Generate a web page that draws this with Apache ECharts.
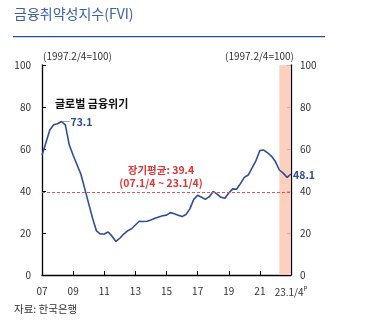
<!DOCTYPE html>
<html><head><meta charset="utf-8">
<script src="https://cdn.jsdelivr.net/npm/echarts@6/dist/echarts.min.js"></script>
<style>html,body{margin:0;padding:0;background:#fff}#c{width:366px;height:328px}</style>
</head><body><div id="c"></div>
<script>
// Quarterly categories 07.1 ... 23.1
const years = ['07','08','09','10','11','12','13','14','15','16','17','18','19','20','21','22','23'];
const categories = [];
years.forEach(y => { for (let q = 1; q <= 4; q++) { if (y === '23' && q > 1) break; categories.push(y + '.' + q); } });
const fvi = [57,63,69,71.5,72,73.1,71.5,62,57,52.5,48,41,34,27,21,19.5,19.5,20.5,18.5,16,17.5,19.5,21,22,23.8,25.6,25.5,25.6,26.2,27,27.6,28.2,28.5,29.7,29.2,28.5,27.8,28.8,31.5,36,38,37,36,37.3,39.8,38.5,37,36.5,39,41,40.8,43.5,46.5,47.6,51,54.5,59.3,59.5,58.2,56.5,54,50,48.5,46.5,48.1];
const yTicks = [0,20,40,60,80,100];
const longAvg = 39.4;
const shadeFrom = '22.2', shadeTo = '23.1';
const FONT = '"Noto Sans CJK KR", "Noto Sans", sans-serif';

const chart = echarts.init(document.getElementById('c'), null, {renderer:'canvas'});
const peakIdx = fvi.indexOf(Math.max(...fvi));
const lastIdx = fvi.length - 1;

chart.setOption({
  animation: false,
  textStyle: {fontFamily: FONT},
  grid: {left: 42, right: 75, top: 65, bottom: 53},
  xAxis: {
    type: 'category', data: categories, boundaryGap: false,
    axisLine: {lineStyle: {color: '#000', width: 1.3}},
    axisTick: {inside: true, interval: 7, length: 4, lineStyle: {color: '#000'}},
    axisLabel: {interval: 7, color: '#333', fontSize: 10, margin: 11, fontFamily: FONT,
      formatter: (v, i) => i === categories.length - 1 ? '23.1/4{p|P}' : v.split('.')[0],
      rich: {p: {fontSize: 6, verticalAlign: 'top', color: '#333', padding: [0,0,6,0]}}},
    splitLine: {show: false}
  },
  yAxis: [
    {type: 'value', min: 0, max: 100, interval: 20, position: 'left',
     axisLine: {show: true, lineStyle: {color: '#000', width: 1.3}},
     axisTick: {show: true, inside: true, length: 4, lineStyle: {color: '#000'}},
     axisLabel: {color: '#333', fontSize: 10, margin: 11, fontFamily: FONT},
     splitLine: {show: false}},
    {type: 'value', min: 0, max: 100, interval: 20, position: 'right',
     axisLine: {show: true, lineStyle: {color: '#000', width: 1.3}},
     axisTick: {show: true, inside: true, length: 4, lineStyle: {color: '#000'}},
     axisLabel: {color: '#333', fontSize: 10, margin: 9, fontFamily: FONT},
     splitLine: {show: false}}
  ],
  series: [{
    type: 'line', data: fvi, symbol: 'none', smooth: false,
    lineStyle: {color: '#2e4d9a', width: 1.6},
    z: 3,
    markArea: {silent: true, itemStyle: {color: 'rgba(252,200,180,0.85)'},
      data: [[{xAxis: shadeFrom}, {xAxis: shadeTo}]]},
    markLine: {silent: true, symbol: 'none', label: {show: false},
      lineStyle: {color: '#e05555', type: [3,2], width: 1},
      data: [{yAxis: longAvg}]},
    markPoint: {symbol: 'circle', symbolSize: 0,
      data: [
        {coord: [peakIdx, fvi[peakIdx]], label: {show: true, formatter: String(fvi[peakIdx]), position: 'right', offset: [4, 1], color: '#2e4d9a', fontWeight: 'bold', fontSize: 10.5, fontFamily: FONT}},
        {coord: [lastIdx, fvi[lastIdx]], label: {show: true, formatter: String(fvi[lastIdx]), position: 'right', offset: [-3, 1], color: '#2e4d9a', fontWeight: 'bold', fontSize: 10.5, fontFamily: FONT}}
      ]}
  }]
});

const pk = chart.convertToPixel({xAxisIndex: 0, yAxisIndex: 0}, [peakIdx, fvi[peakIdx]]);
const avgPx = chart.convertToPixel({yAxisIndex: 0}, longAvg);
chart.setOption({
  graphic: [
    {type: 'text', left: 14, top: 7, style: {text: '금융취약성지수(FVI)', fill: '#3a62a6', font: '14px ' + FONT}},
    {type: 'rect', shape: {x: 13, y: 36, width: 312, height: 1.3}, style: {fill: '#2a4f8f'}},
    {type: 'text', left: 43, top: 51, style: {text: '(1997.2/4=100)', fill: '#333', font: '10px ' + FONT}},
    {type: 'text', right: 72, top: 51, style: {text: '(1997.2/4=100)', fill: '#333', font: '10px ' + FONT}},
    {type: 'text', left: 55, top: 98, style: {text: '글로벌 금융위기', fill: '#111', font: 'bold 11px ' + FONT}},
    {type: 'line', shape: {x1: pk[0] + 1, y1: pk[1], x2: pk[0] + 8, y2: pk[1]}, style: {stroke: '#888', lineWidth: 0.8}, z: 10},
    {type: 'text', x: 161, y: avgPx - 27, style: {text: '장기평균: ' + longAvg, fill: '#e03535', font: 'bold 10.5px ' + FONT, align: 'center'}},
    {type: 'text', x: 161, y: avgPx - 14, style: {text: '(07.1/4 ~ 23.1/4)', fill: '#e03535', font: 'bold 10.5px ' + FONT, align: 'center'}},
    {type: 'text', left: 14, top: 304, style: {text: '자료: 한국은행', fill: '#333', font: '10.5px ' + FONT}}
  ]
});
</script></body></html>
